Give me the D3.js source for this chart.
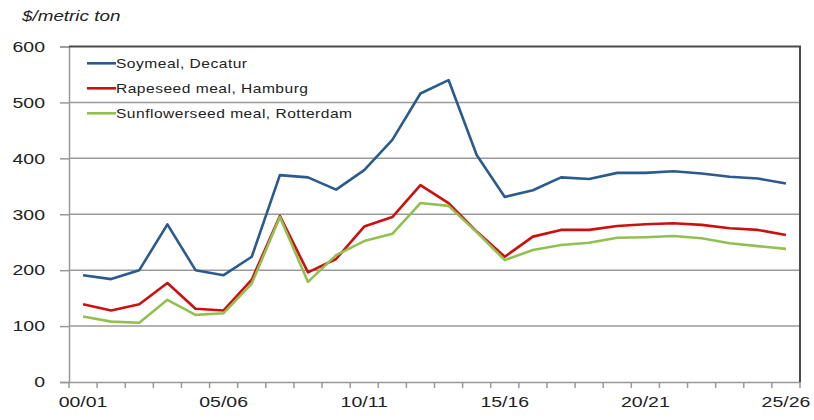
<!DOCTYPE html>
<html>
<head>
<meta charset="utf-8">
<script src="https://cdn.jsdelivr.net/npm/d3@7"></script>
<style>
body { margin: 0; background: #fff; }
text { font-family: "Liberation Sans", Arial, sans-serif; }
</style>
</head>
<body>
<script>
const years = ["00/01","01/02","02/03","03/04","04/05","05/06","06/07","07/08","08/09","09/10",
  "10/11","11/12","12/13","13/14","14/15","15/16","16/17","17/18","18/19","19/20",
  "20/21","21/22","22/23","23/24","24/25","25/26"];
const soymeal = [191,184,200,282,200,191,224,370,366,344,379,433,516,540,406,331,343,366,363,374,374,377,373,367,364,355];
const rapeseed = [139,128,139,177,131,128,183,297,196,220,278,295,352,320,269,224,260,272,272,279,282,284,281,275,272,263];
const sunflower = [117,108,106,147,120,123,176,295,179,227,252,265,320,315,268,218,236,245,249,258,259,261,257,248,243,238];
const yTicks = [0,100,200,300,400,500,600];
const xLabels = ["00/01","05/06","10/11","15/16","20/21","25/26"];
const seriesNames = ["Soymeal, Decatur","Rapeseed meal, Hamburg","Sunflowerseed meal, Rotterdam"];
const seriesColors = ["#2a5a8e","#cc1010","#92c050"];

const W = 814, H = 420;
const margin = { top: 46.5, right: 14, bottom: 38, left: 69 };
const width = W - margin.left - margin.right;
const height = H - margin.top - margin.bottom;
const stretch = 1.3; // the reference text is drawn wide

const svg = d3.select("body").append("svg")
  .attr("width", W).attr("height", H);

const g = svg.append("g")
  .attr("transform", `translate(${margin.left},${margin.top})`);

const x = d3.scaleBand().domain(years).range([0, width]);
const y = d3.scaleLinear().domain([0, 600]).range([height, 0]);

// gridlines
g.selectAll(".grid").data(yTicks.filter(d => d > 0 && d < 600)).enter().append("line")
  .attr("x1", 0).attr("x2", width)
  .attr("y1", d => y(d)).attr("y2", d => y(d))
  .attr("stroke", "#9a9a9a").attr("stroke-width", 1.5);

// y axis
const yAxis = g.append("g").call(d3.axisLeft(y).tickValues(yTicks).tickSize(9));
yAxis.select(".domain").attr("stroke", "#999").attr("stroke-width", 1.5);
yAxis.selectAll(".tick line").attr("stroke", "#999").attr("stroke-width", 1.5);
yAxis.selectAll("text")
  .attr("font-size", 15).attr("fill", "#222")
  .attr("x", -24 / stretch)
  .attr("transform", `scale(${stretch},1)`);

// x axis
const xAxis = g.append("g").attr("transform", `translate(0,${height})`)
  .call(d3.axisBottom(x).tickSize(0).tickPadding(14)
    .tickFormat(d => xLabels.includes(d) ? d : ""));
xAxis.select(".domain").attr("stroke", "#999").attr("stroke-width", 1.5);
xAxis.selectAll("text")
  .attr("font-size", 15).attr("fill", "#222")
  .attr("transform", `scale(${stretch},1)`);
// tick marks at band boundaries
const bounds = years.map(d => x(d)).concat([width]);
xAxis.selectAll(".bt").data(bounds).enter().append("line")
  .attr("x1", d => d).attr("x2", d => d)
  .attr("y1", 0).attr("y2", 6)
  .attr("stroke", "#999").attr("stroke-width", 1.5);

// top and right border
g.append("path")
  .attr("d", `M0,0H${width}V${height}`)
  .attr("fill", "none").attr("stroke", "#4a4a4a").attr("stroke-width", 2);

const line = d3.line()
  .x((d, i) => x(years[i]) + x.bandwidth() / 2)
  .y(d => y(d));

[soymeal, rapeseed, sunflower].forEach((s, k) => {
  g.append("path").datum(s)
    .attr("d", line)
    .attr("fill", "none")
    .attr("stroke", seriesColors[k])
    .attr("stroke-width", 2.6)
    .attr("stroke-linejoin", "round");
});

// legend
const legend = svg.append("g");
seriesNames.forEach((name, k) => {
  const ly = 63.3 + k * 25;
  legend.append("line")
    .attr("x1", 87).attr("x2", 116).attr("y1", ly).attr("y2", ly)
    .attr("stroke", seriesColors[k]).attr("stroke-width", 2.6);
  legend.append("text")
    .attr("x", 116 / 1.2).attr("y", ly + 5)
    .attr("transform", "scale(1.2,1)")
    .attr("font-size", 13).attr("fill", "#222")
    .attr("letter-spacing", 0.4)
    .text(name);
});

// unit label
svg.append("text")
  .attr("x", 22 / stretch).attr("y", 21)
  .attr("transform", `scale(${stretch},1)`)
  .attr("font-size", 14.5).attr("font-style", "italic")
  .attr("fill", "#222")
  .text("$/metric ton");
</script>
</body>
</html>
